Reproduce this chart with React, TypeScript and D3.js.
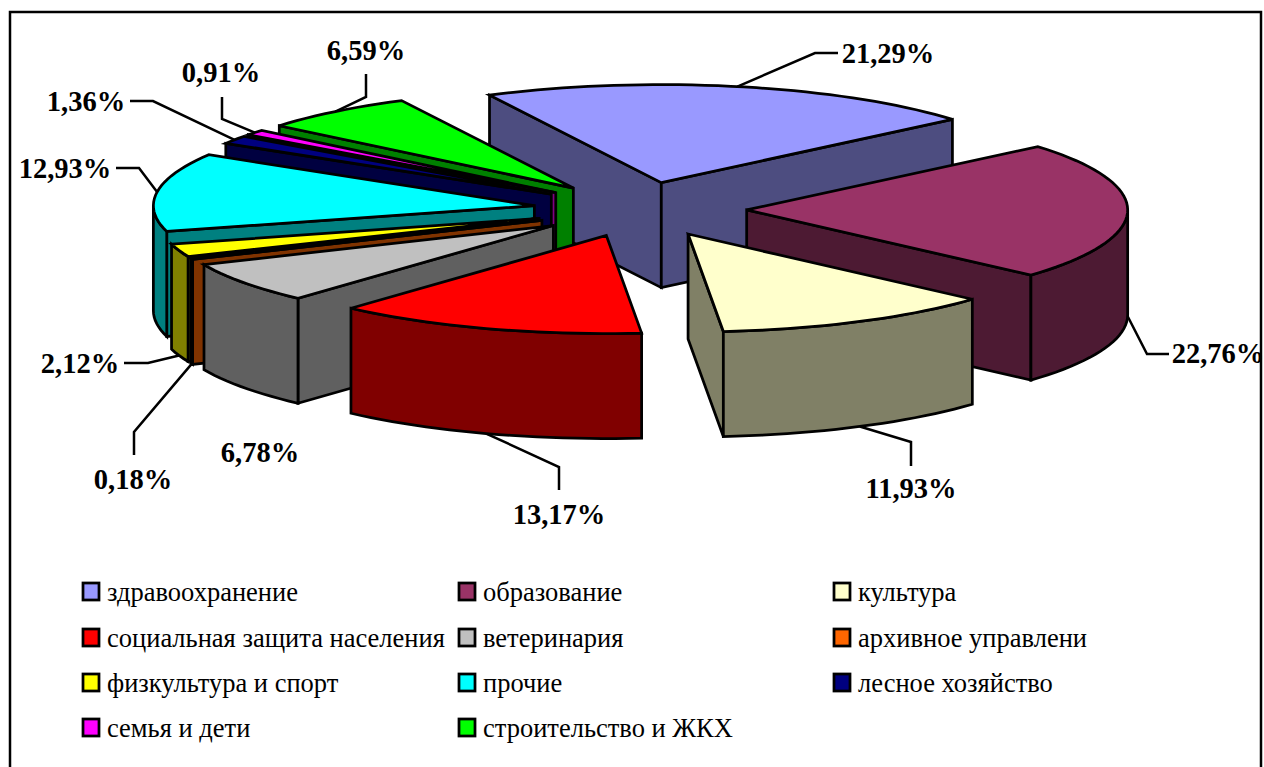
import * as d3 from 'd3'

const categories = [
  'здравоохранение',
  'образование',
  'культура',
  'социальная защита населения',
  'ветеринария',
  'архивное управлени',
  'физкультура и спорт',
  'прочие',
  'лесное хозяйство',
  'семья и дети',
  'строительство и ЖКХ',
]
const shares = [21.29, 22.76, 11.93, 13.17, 6.78, 0.18, 2.12, 12.93, 1.36, 0.91, 6.59]
const colors = [
  '#9999ff',
  '#993366',
  '#ffffcc',
  '#ff0000',
  '#c0c0c0',
  '#ff6600',
  '#ffff00',
  '#00ffff',
  '#000080',
  '#ff00ff',
  '#00ff00',
]

// Label placement: text centre + baseline, then the bend and the end of the leader
const labelX = [888, 1218, 911, 559, 260, 133, 80, 65, 86, 221, 366]
const labelY = [63, 363, 498, 524, 462, 489, 373, 178, 111, 82, 60]
const leaderBend: ([number, number] | null)[] = [
  [815, 53],
  [1147, 354],
  [911, 442],
  [559, 467],
  null,
  [134, 432],
  [148, 363],
  [139, 168],
  [153, 101],
  [222, 119],
  [366, 97],
]
const leaderEnd: ([number, number] | null)[] = [
  [838, 53],
  [1169, 354],
  [911, 466],
  [559, 490],
  null,
  [134, 455],
  [124, 363],
  [116, 168],
  [130, 101],
  [222, 97],
  [366, 74],
]

const width = 1264
const height = 767
const cx = 640
const cy = 209.5
const rx = 381
const ry = 98
const depth = 105
const explode = 0.28
const firstAngle = (-26.8 * Math.PI) / 180

const legendX = [83, 459, 834]
const legendY = [583, 629, 674, 719]

const TAU = Math.PI * 2
const serif = '"Liberation Serif", "Times New Roman", serif'

const pie = d3
  .pie<number>()
  .sort(null)
  .startAngle(firstAngle)
  .endAngle(firstAngle + TAU)
const arcs = pie(shares)

const pathLine = d3
  .line<[number, number]>()
  .x((d) => d[0])
  .y((d) => d[1])

function darker(color: string) {
  const c = d3.rgb(color)
  return d3.rgb(c.r / 2, c.g / 2, c.b / 2).formatHex()
}

const slices = arcs.map((a, i) => {
  const mid = (a.startAngle + a.endAngle) / 2
  const ax = cx + explode * rx * Math.sin(mid)
  const ay = cy - explode * ry * Math.cos(mid)
  const rim = (t: number, dz = 0): [number, number] => [
    ax + rx * Math.sin(t),
    ay - ry * Math.cos(t) + dz,
  ]
  const sample = (t0: number, t1: number, dz = 0) => {
    const n = Math.max(2, Math.ceil(((t1 - t0) / TAU) * 180))
    return d3.range(n + 1).map((k) => rim(t0 + ((t1 - t0) * k) / n, dz))
  }

  const top = pathLine([[ax, ay], ...sample(a.startAngle, a.endAngle)]) + 'Z'

  const faces: string[] = []
  const cutFace = (t: number) =>
    pathLine([[ax, ay], rim(t), rim(t, depth), [ax, ay + depth]]) + 'Z'
  if (Math.sin(a.startAngle) < 0) faces.push(cutFace(a.startAngle))
  if (Math.sin(a.endAngle) > 0) faces.push(cutFace(a.endAngle))

  // the outer wall shows only on the front half of the ellipse
  const t0 = Math.max(a.startAngle, Math.PI / 2)
  const t1 = Math.min(a.endAngle, (3 * Math.PI) / 2)
  if (t1 > t0) {
    faces.push(pathLine([...sample(t0, t1), ...sample(t0, t1, depth).reverse()]) + 'Z')
  }

  // leader starts from the middle of the rim: lower edge for the front slices
  const front = Math.cos(mid) < 0
  const anchor = rim(mid, front ? depth : 0)
  const bend = leaderBend[i]
  const end = leaderEnd[i]
  const leader = bend && end ? pathLine([anchor, bend, end]) : null

  return { i, ay, top, faces, leader, fill: colors[i], side: darker(colors[i]) }
})

// back slices first
const drawOrder = d3.sort(slices, (s) => s.ay)

export default function App() {
  return (
    <svg
      width={width}
      height={height}
      style={{ position: 'absolute', left: 0, top: 0, background: '#fff' }}
      fontFamily={serif}
    >
      <rect x={10} y={12} width={1251} height={800} fill="#fff" stroke="#000" strokeWidth={2.5} />

      {slices.map(
        (s) =>
          s.leader && <path key={s.i} d={s.leader} fill="none" stroke="#000" strokeWidth={2.5} />,
      )}

      {drawOrder.map((s) => (
        <g key={s.i} stroke="#000" strokeWidth={2.75} strokeLinejoin="miter">
          {s.faces.map((d, k) => (
            <path key={k} d={d} fill={s.side} />
          ))}
          <path d={s.top} fill={s.fill} />
        </g>
      ))}

      {shares.map((v, i) => (
        <text
          key={i}
          x={labelX[i]}
          y={labelY[i]}
          textAnchor="middle"
          fontSize={28.5}
          fontWeight="bold"
          fill="#000"
        >
          {v.toFixed(2).replace('.', ',')}%
        </text>
      ))}

      {categories.map((name, i) => {
        const col = i % 3
        const row = Math.floor(i / 3)
        return (
          <g key={name}>
            <rect
              x={legendX[col]}
              y={legendY[row]}
              width={16}
              height={17}
              fill={colors[i]}
              stroke="#000"
              strokeWidth={2.75}
            />
            <text x={legendX[col] + 24} y={legendY[row] + 18} fontSize={26.5} fill="#000">
              {name}
            </text>
          </g>
        )
      })}
    </svg>
  )
}
